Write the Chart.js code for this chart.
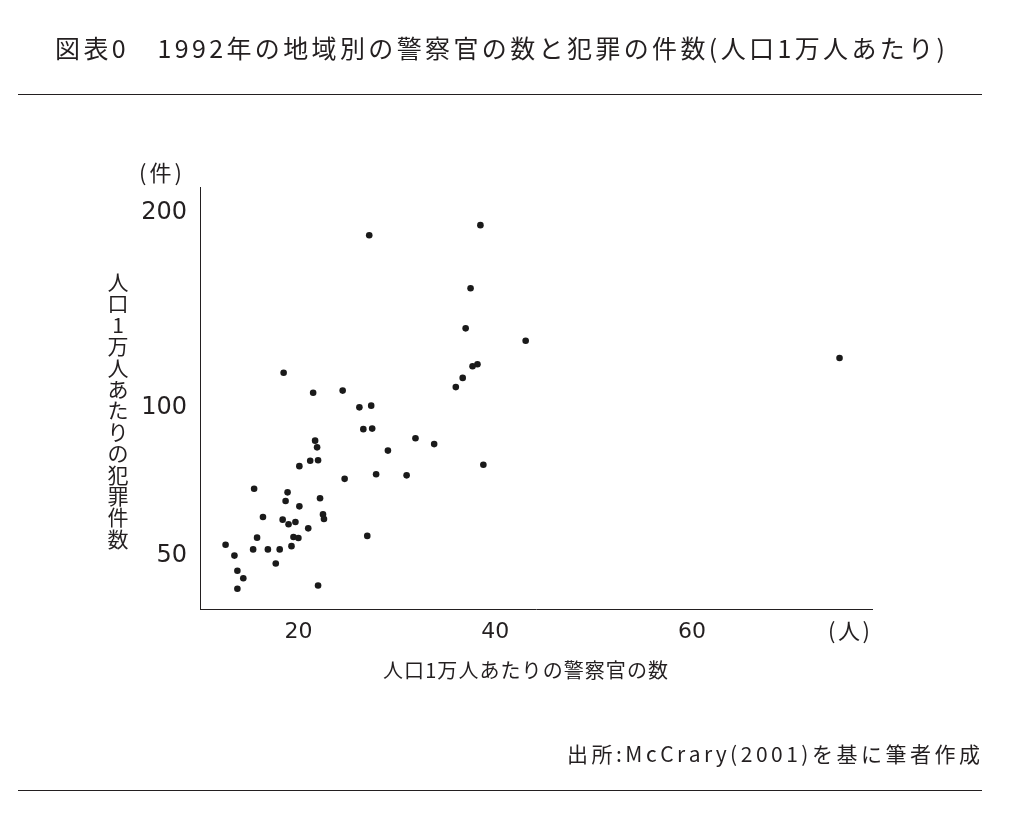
<!DOCTYPE html>
<html><head><meta charset="utf-8">
<script src="https://cdn.jsdelivr.net/npm/chart.js@4.4.1/dist/chart.umd.min.js"></script>
<style>html,body{margin:0;padding:0;background:#fff;}#wrap{width:1033px;height:813px;}</style>
</head><body><div id="wrap"><canvas id="c" width="1033" height="813"></canvas></div>
<script>
// 人口1万人あたりの警察官の数 (x) と犯罪の件数 (y)
const policeX = [18.5,21.5,24.5,26.2,27.4,26.6,27.5,31.9,33.8,29.1,21.7,21.9,21.2,22.0,20.1,24.7,27.9,31.0,15.5,18.9,18.7,20.1,22.2,16.4,18.4,19.0,19.7,22.5,22.6,21.0,15.8,19.5,20.0,19.3,27.0,12.6,15.4,16.9,18.1,13.5,17.7,13.8,14.4,13.8,22.0,27.2,38.5,37.5,37.0,43.1,38.2,37.7,36.7,36.0,38.8,75.0];
const crimeY  = [115.1,106.4,107.3,100.3,101.0,91.6,91.8,88.1,85.9,83.5,87.2,84.7,79.8,80.0,77.9,73.5,75.1,74.7,70.2,69.0,66.2,64.5,67.1,61.2,60.4,59.0,59.7,62.0,60.6,57.8,55.1,55.3,55.0,52.7,55.6,53.1,51.8,51.8,51.8,50.1,48.0,46.1,44.2,41.6,42.4,186.4,192.5,156.5,135.9,129.9,118.9,118.0,112.8,108.8,78.4,121.8];
const xTicks = [20, 40, 60];
const yTicks = [50, 100, 200];
const titleText = "図表0　1992年の地域別の警察官の数と犯罪の件数(人口1万人あたり)";
const sourceText = "出所:McCrary(2001)を基に筆者作成";
const xTitle = "人口1万人あたりの警察官の数";
const yTitle = "人口1万人あたりの犯罪件数";
const xUnit = "(人)";
const yUnit = "(件)";

class PowScale extends Chart.LinearScale {
  static id = 'pow';
  static defaults = {};
  _t(v) { return Math.pow(v, this.options.exponent || 0.4); }
  getPixelForValue(v) {
    const a = this._t(this.min), b = this._t(this.max);
    return this.getPixelForDecimal((this._t(v) - a) / (b - a));
  }
  getValueForPixel(p) {
    const e = this.options.exponent || 0.4;
    const a = this._t(this.min), b = this._t(this.max);
    return Math.pow(a + this.getDecimalForPixel(p) * (b - a), 1 / e);
  }
}
Chart.register(PowScale);

const JP = '"Noto Sans CJK JP", "Noto Sans", sans-serif';
function spaced(ctx, text, x, y, target) {
  const chars = [...text];
  const ws = chars.map(c => ctx.measureText(c).width);
  const sum = ws.reduce((a, b) => a + b, 0);
  const gap = chars.length > 1 ? (target - sum) / (chars.length - 1) : 0;
  let cx = x;
  ctx.textAlign = 'left';
  chars.forEach((c, i) => { ctx.fillText(c, cx, y); cx += ws[i] + gap; });
}

const deco = {
  id: 'deco',
  beforeDraw(chart) {
    const ctx = chart.ctx;
    ctx.save();
    ctx.fillStyle = '#fff';
    ctx.fillRect(0, 0, chart.width, chart.height);
    ctx.restore();
  },
  afterDraw(chart) {
    const ctx = chart.ctx;
    ctx.save();
    ctx.fillStyle = '#231f20';
    ctx.textBaseline = 'middle';
    ctx.font = '400 25px ' + JP;
    spaced(ctx, titleText, 55, 48, 890);
    ctx.font = '21px ' + JP;
    spaced(ctx, sourceText, 567, 754, 413);
    ctx.font = '20px ' + JP;
    spaced(ctx, xTitle, 383, 670, 285);
    ctx.font = '22px ' + JP;
    spaced(ctx, yUnit, 139, 173, 43);
    spaced(ctx, xUnit, 828, 631, 42);
    ctx.font = '21px ' + JP;
    ctx.textAlign = 'center';
    [...yTitle].forEach((c, i) => ctx.fillText(c, 118, 282 + i * 21.4));
    ctx.strokeStyle = '#231f20';
    ctx.lineWidth = 1;
    ctx.beginPath();
    ctx.moveTo(18, 94.5); ctx.lineTo(982, 94.5);
    ctx.moveTo(18, 790.5); ctx.lineTo(982, 790.5);
    ctx.stroke();
    ctx.restore();
  }
};

new Chart(document.getElementById('c'), {
  type: 'scatter',
  data: {
    datasets: [{
      data: policeX.map((x, i) => ({ x: x, y: crimeY[i] })),
      backgroundColor: '#1a1a1a',
      borderColor: '#1a1a1a',
      pointRadius: 3.3,
      borderWidth: 0
    }]
  },
  options: {
    responsive: false,
    animation: false,
    devicePixelRatio: 1,
    layout: { padding: { left: 0, right: 161, top: 187, bottom: 164 } },
    plugins: { legend: { display: false }, tooltip: { enabled: false } },
    scales: {
      x: {
        type: 'linear', min: 10, max: 78.3, bounds: 'data',
        grid: { display: false, drawTicks: false },
        border: { display: true, color: '#231f20', width: 1 },
        afterBuildTicks: s => { s.ticks = xTicks.map(v => ({ value: v })); },
        afterFit: s => { s.height = 40; },
        ticks: { padding: 10, color: '#231f20', font: { family: '"DejaVu Sans", sans-serif', size: 22 }, callback: v => String(v), maxRotation: 0 }
      },
      y: {
        type: 'pow', exponent: 0.4, min: 36.89, max: 216.46, bounds: 'data',
        grid: { display: false, drawTicks: false },
        border: { display: true, color: '#231f20', width: 1 },
        afterBuildTicks: s => { s.ticks = yTicks.map(v => ({ value: v })); },
        afterFit: s => { s.width = 200; },
        ticks: { padding: 13, color: '#231f20', font: { family: '"DejaVu Sans", sans-serif', size: 24 }, callback: v => String(v) }
      }
    }
  },
  plugins: [deco]
});
</script>
</body></html>
